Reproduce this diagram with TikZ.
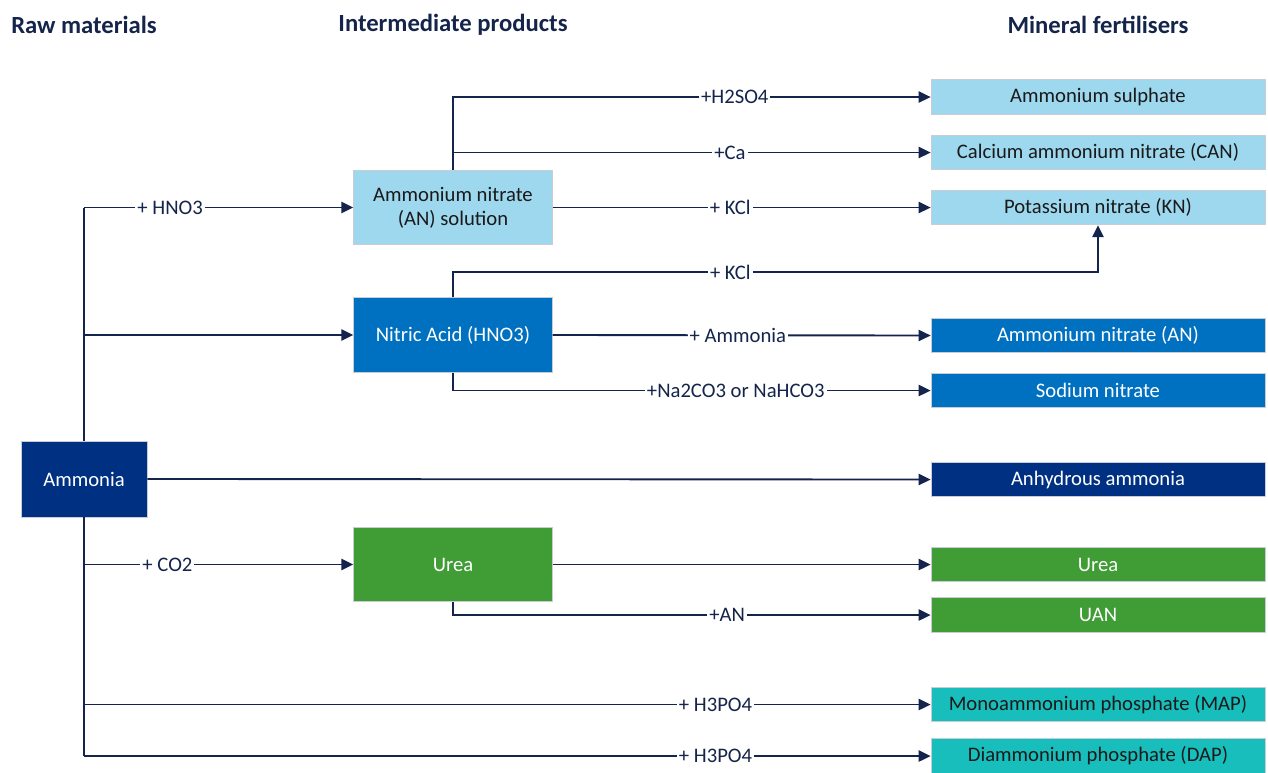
\documentclass[tikz,border=0pt]{standalone}
\usepackage{fontspec}
\setmainfont{Carlito}
\usetikzlibrary{arrows.meta}
\definecolor{txtnavy}{HTML}{14244A}
\definecolor{linenavy}{HTML}{15244C}
\definecolor{boxedge}{HTML}{C8CCD4}
\definecolor{nh3blue}{HTML}{003082}
\definecolor{lightblue}{HTML}{9DD8EF}
\definecolor{midblue}{HTML}{0070C0}
\definecolor{ureagreen}{HTML}{409C35}
\definecolor{teal}{HTML}{17BEBB}
\definecolor{darktext}{HTML}{1A1A1A}

\begin{document}
\begin{tikzpicture}[x=0.75pt, y=-0.75pt,
    every node/.style={font=\fontsize{15.5}{18}\selectfont, text=txtnavy},
    head/.style={font=\fontsize{18.5}{22}\selectfont\bfseries},
    box/.style={draw=boxedge, line width=0.6pt, minimum width=149pt, minimum height=56pt, align=center, inner sep=0pt},
    fert/.style={draw=boxedge, line width=0.6pt, minimum width=250.5pt, minimum height=26pt, inner sep=0pt},
    lbl/.style={fill=white, inner xsep=1.5pt, inner ysep=0.5pt},
    line/.style={draw=linenavy, line width=1.4pt},
    flow/.style={line, -{Triangle[length=9pt,width=8.5pt]}}
  ]
  \useasboundingbox (0,0) rectangle (1268,772);
  % headings
  \node[head] at (84,25) (hraw) {Raw materials};
  \node[head] at (453,25) (hint) {Intermediate products};
  \node[head] at (1098,25) (hmin) {Mineral fertilisers};
  % raw material and intermediate products
  \node[box, fill=nh3blue, text=white, minimum width=94.5pt, minimum height=57pt] at (84,479) (nh3) {Ammonia};
  \node[box, fill=lightblue, text=darktext] at (453,207.5) (ans) {Ammonium nitrate\\(AN) solution};
  \node[box, fill=midblue, text=white] at (453,335) (hno3) {Nitric Acid (HNO3)};
  \node[box, fill=ureagreen, text=white] at (453,564.5) (urea) {Urea};
  % mineral fertilisers
  \node[fert, fill=lightblue, text=darktext] at (1098,97) (as) {Ammonium sulphate};
  \node[fert, fill=lightblue, text=darktext] at (1098,152.5) (can) {Calcium ammonium nitrate (CAN)};
  \node[fert, fill=lightblue, text=darktext] at (1098,207.5) (kn) {Potassium nitrate (KN)};
  \node[fert, fill=midblue, text=white] at (1098,335.5) (an) {Ammonium nitrate (AN)};
  \node[fert, fill=midblue, text=white] at (1098,390.5) (na) {Sodium nitrate};
  \node[fert, fill=nh3blue, text=white] at (1098,479.5) (anh) {Anhydrous ammonia};
  \node[fert, fill=ureagreen, text=white] at (1098,564.5) (ureaf) {Urea};
  \node[fert, fill=ureagreen, text=white] at (1098,615) (uan) {UAN};
  \node[fert, fill=teal, text=darktext] at (1098,704.5) (map) {Monoammonium phosphate (MAP)};
  \node[fert, fill=teal, text=darktext] at (1098,756) (dap) {Diammonium phosphate (DAP)};
  \coordinate (kturn) at (1098,272);
  % trunk from ammonia
  \draw[line] (nh3.north) -- (nh3 |- ans.west);
  \draw[line] (nh3.south) -- (nh3 |- dap.west);
  \draw[flow] (nh3 |- ans.west) -- node[lbl, pos=0.32] {+ HNO3} (ans.west);
  \draw[flow] (nh3 |- hno3.west) -- (hno3.west);
  \draw[flow] (nh3.east) -- (anh.west);
  \draw[flow] (nh3 |- urea.west) -- node[lbl, pos=0.31] {+ CO2} (urea.west);
  \draw[flow] (nh3 |- map.west) -- node[lbl, pos=0.746] {+ H3PO4} (map.west);
  \draw[flow] (nh3 |- dap.west) -- node[lbl, pos=0.746] {+ H3PO4} (dap.west);
  % from ammonium nitrate solution
  \draw[flow] (ans.north) |- node[lbl, pos=0.795] {+H2SO4} (as.west);
  \draw[flow] (ans.north |- can.west) -- node[lbl, pos=0.58] {+Ca} (can.west);
  \draw[flow] (ans.east) -- node[lbl, pos=0.47] {+ KCl} (kn.west);
  % from nitric acid
  \draw[flow] (hno3.north) |- node[lbl, pos=0.715] {+ KCl} (kturn) -- (kn.south);
  \draw[flow] (hno3.east) -- node[lbl, pos=0.49] {+ Ammonia} (an.west);
  \draw[flow] (hno3.south) |- node[lbl, pos=0.796] {+Na2CO3 or NaHCO3} (na.west);
  % from urea
  \draw[flow] (urea.east) -- (ureaf.west);
  \draw[flow] (urea.south) |- node[lbl, pos=0.787] {+AN} (uan.west);
\end{tikzpicture}
\end{document}
